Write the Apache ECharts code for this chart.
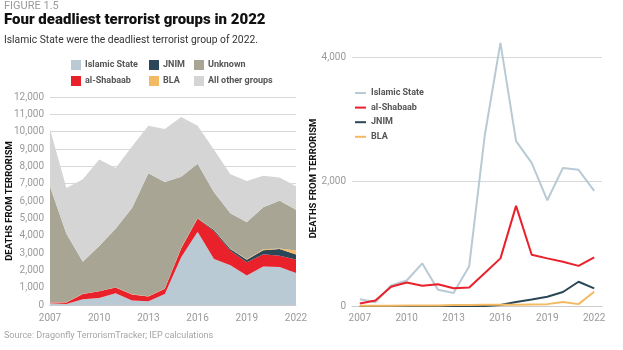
<!DOCTYPE html>
<html lang="en">
<head>
    <meta charset="UTF-8">
    <title>Four deadliest terrorist groups in 2022</title>
    <script type="text/javascript" src="https://cdn.jsdelivr.net/npm/echarts@6/dist/echarts.min.js"></script>
    <style>
        html, body { margin: 0; padding: 0; background: #fff; }
        #chart { width: 623px; height: 350px; }
    </style>
</head>
<body>
<div id="chart"></div>
<script type="text/javascript">
    // years on both x axes
    var years = ['2007', '2008', '2009', '2010', '2011', '2012', '2013', '2014',
        '2015', '2016', '2017', '2018', '2019', '2020', '2021', '2022'];

    // deaths per group
    var islamicState = [107, 59, 330, 410, 685, 260, 210, 640, 2750, 4230, 2650, 2300, 1700, 2220, 2190, 1850];
    var alShabaab = [40, 90, 310, 378, 325, 350, 284, 297, 530, 766, 1610, 825, 766, 710, 645, 782];
    var jnim = [0, 0, 0, 0, 0, 0, 0, 0, 0, 15, 65, 105, 150, 225, 390, 284];
    var bla = [5, 5, 5, 10, 10, 10, 15, 15, 20, 20, 20, 25, 30, 65, 30, 230];
    // only on the stacked chart
    var unknown = [6680, 3950, 1855, 2600, 3380, 4980, 7090, 6150, 4100, 3120, 2155, 2045, 2134, 2420, 2765, 2354];
    var otherGroups = [3320, 2650, 4750, 5000, 3500, 3550, 2740, 3050, 3450, 2190, 2460, 2240, 2380, 1810, 1330, 1350];

    var font = 'Roboto, sans-serif';
    var colIS = '#b9cad4', colSh = '#e8212b', colJnim = '#2b4657', colBla = '#f4b963',
        colUnk = '#a8a595', colOther = '#d5d5d5';

    function fmt(v) {
        return String(v).replace(/\B(?=(\d{3})+(?!\d))/g, ',');
    }

    function area(name, data, color) {
        return {
            name: name, type: 'line', stack: 'total',
            xAxisIndex: 0, yAxisIndex: 0,
            data: data, symbol: 'none', silent: true,
            lineStyle: {width: 0},
            itemStyle: {color: color},
            areaStyle: {color: color, opacity: 1}
        };
    }

    function line(name, data, color) {
        return {
            name: name, type: 'line',
            xAxisIndex: 1, yAxisIndex: 1,
            data: data, symbol: 'none', silent: true, clip: false,
            lineStyle: {width: 2, color: color},
            itemStyle: {color: color}
        };
    }

    function box(name, x, y) {
        return {
            data: [name], left: x, top: y, padding: 0,
            icon: 'rect', itemWidth: 10, itemHeight: 10, itemGap: 0,
            selectedMode: false,
            textStyle: {fontFamily: font, fontSize: 9, fontWeight: 'bold', color: '#555', lineHeight: 12, padding: [0, 0, 0, -1]}
        };
    }

    var legendText = {fontFamily: font, fontSize: 9, fontWeight: 'bold', color: '#555', lineHeight: 12};
    var labelStyle = {fontFamily: font, fontSize: 10, color: '#9a9a9a'};
    var nameStyle = {fontFamily: font, fontSize: 9.5, fontWeight: 'bold', color: '#111'};

    var mychart = echarts.init(document.getElementById('chart'), null, {renderer: 'canvas'});
    var option = {
        backgroundColor: '#fff',
        animation: false,
        title: [
            {text: 'FIGURE 1.5', left: 4, top: 1, padding: 0,
                textStyle: {fontFamily: font, fontSize: 11, fontWeight: 'normal', color: '#9a9a9a'}},
            {text: 'Four deadliest terrorist groups in 2022', left: 4, top: 13, padding: 0,
                textStyle: {fontFamily: font, fontSize: 15, fontWeight: 900, color: '#111'}},
            {text: 'Islamic State were the deadliest terrorist group of 2022.', left: 4, top: 35, padding: 0,
                textStyle: {fontFamily: font, fontSize: 10.3, fontWeight: 'normal', color: '#333'}},
            {text: 'Source: Dragonfly TerrorismTracker; IEP calculations', left: 4, top: 331, padding: 0,
                textStyle: {fontFamily: font, fontSize: 9, fontWeight: 'normal', color: '#a5a5a5'}}
        ],
        legend: [
            box('Islamic State', 71, 59),
            box('JNIM', 149, 59),
            box('Unknown', 194, 59),
            box('al-Shabaab', 71, 75),
            box('BLA', 149, 75),
            box('All other groups', 194, 75),
            {
                data: ['Islamic State', 'al-Shabaab', 'JNIM', 'BLA'],
                orient: 'vertical', left: 355, top: 87, padding: 0,
                icon: 'rect', itemWidth: 11, itemHeight: 2, itemGap: 2.6,
                selectedMode: false,
                textStyle: legendText
            }
        ],
        grid: [
            {left: 50, right: 327, top: 97, bottom: 45, outerBoundsMode: 'none'},
            {left: 352, right: 21, top: 51, bottom: 44, outerBoundsMode: 'none'}
        ],
        xAxis: [
            {
                gridIndex: 0, type: 'category', data: years, boundaryGap: false,
                axisLine: {lineStyle: {color: '#cfc9c9'}},
                axisTick: {show: false},
                axisLabel: Object.assign({interval: 2, margin: 8}, labelStyle)
            },
            {
                gridIndex: 1, type: 'category', data: years, boundaryGap: true,
                axisLine: {lineStyle: {color: '#cccccc'}},
                axisTick: {show: false},
                axisLabel: Object.assign({interval: 2, margin: 7}, labelStyle)
            }
        ],
        yAxis: [
            {
                gridIndex: 0, type: 'value', min: 0, max: 12000, interval: 1000,
                name: 'DEATHS FROM TERRORISM', nameLocation: 'middle', nameGap: 35,
                nameMoveOverlap: false,
                nameTextStyle: nameStyle,
                axisLine: {show: false}, axisTick: {show: false},
                axisLabel: Object.assign({margin: 6, formatter: fmt}, labelStyle),
                splitLine: {lineStyle: {color: '#d8d8d8', width: 1}}
            },
            {
                gridIndex: 1, type: 'value', min: 0, max: 4100, interval: 2000,
                name: 'DEATHS FROM TERRORISM', nameLocation: 'middle', nameGap: 33,
                nameMoveOverlap: false,
                nameTextStyle: nameStyle,
                axisLine: {show: false}, axisTick: {show: false},
                axisLabel: Object.assign({margin: 6, formatter: fmt, showMaxLabel: false}, labelStyle),
                splitLine: {showMaxLine: false, lineStyle: {color: '#d8d8d8', width: 1}}
            }
        ],
        series: [
            area('Islamic State', islamicState, colIS),
            area('al-Shabaab', alShabaab, colSh),
            area('JNIM', jnim, colJnim),
            area('BLA', bla, colBla),
            area('Unknown', unknown, colUnk),
            area('All other groups', otherGroups, colOther),
            line('Islamic State', islamicState, colIS),
            line('al-Shabaab', alShabaab, colSh),
            line('JNIM', jnim, colJnim),
            line('BLA', bla, colBla)
        ]
    };
    mychart.setOption(option);
</script>
</body>
</html>
